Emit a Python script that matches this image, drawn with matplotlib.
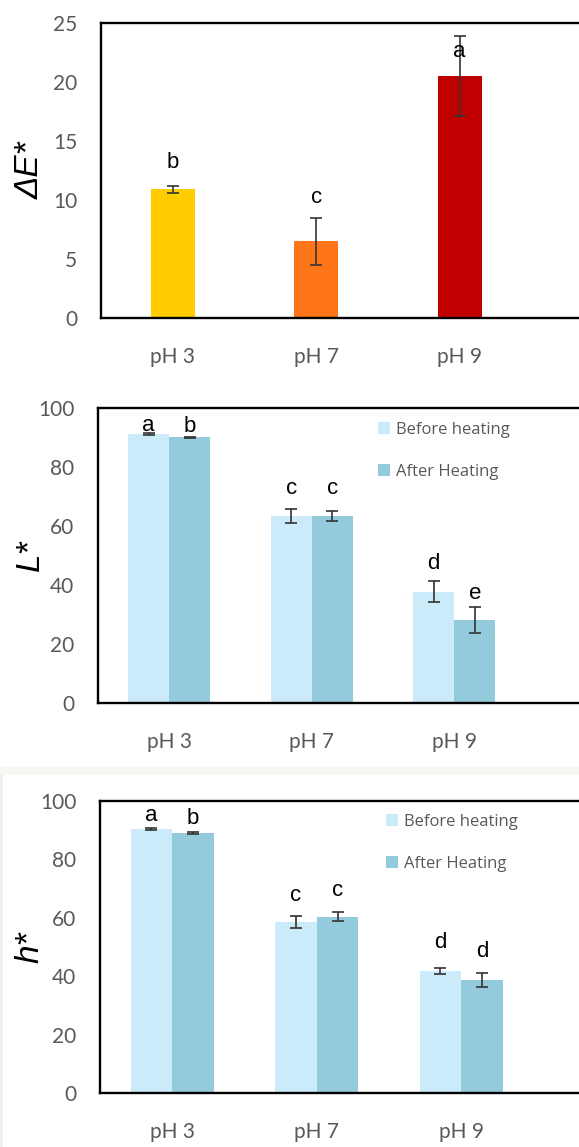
import matplotlib
matplotlib.use("Agg")
import matplotlib.pyplot as plt
from matplotlib.patches import Patch, Rectangle

W, H = 579, 1147

ph_labels = ["pH 3", "pH 7", "pH 9"]

# total colour difference
de_values = [10.9, 6.5, 20.5]
de_errors = [0.3, 2.0, 3.4]
de_letters = ["b", "c", "a"]
de_letter_y = [13.2, 10.2, 22.6]
de_colors = ["#FFCC00", "#FF7519", "#C00000"]

# lightness
l_before = [91.2, 63.4, 37.7]
l_before_err = [0.3, 2.3, 3.6]
l_after = [90.0, 63.4, 28.1]
l_after_err = [0.3, 1.7, 4.3]
l_letters_before = ["a", "c", "d"]
l_letters_after = ["b", "c", "e"]
l_letter_y_before = [94.2, 72.8, 47.4]
l_letter_y_after = [93.7, 72.8, 37.2]

# hue angle
h_before = [90.3, 58.5, 41.8]
h_before_err = [0.3, 2.0, 1.1]
h_after = [89.0, 60.4, 38.7]
h_after_err = [0.3, 1.6, 2.4]
h_letters_before = ["a", "c", "d"]
h_letters_after = ["b", "c", "d"]
h_letter_y_before = [95.1, 67.8, 51.5]
h_letter_y_after = [94.1, 69.5, 48.4]

series_names = ["Before heating", "After Heating"]
before_color = "#CCEBFA"
after_color = "#93CBDC"

tick_grey = "#595959"
err_kw = dict(ecolor="#333333", elinewidth=1.2, capsize=4, capthick=1.2)

fig = plt.figure(figsize=(W / 100, H / 100), dpi=100)

# faint strip between the lower panels
fig.patches.append(Rectangle((0, 1 - 775 / H), 1, 8 / H, transform=fig.transFigure,
                             facecolor="#F9F7F1", edgecolor="none", zorder=0))
fig.patches.append(Rectangle((0, 0), 3 / W, 1 - 775 / H, transform=fig.transFigure,
                             facecolor="#F5EFE8", edgecolor="none", zorder=0))


def make_axes(left, top, bottom, slot, ymax, ystep, ylabel):
    right = 586
    ax = fig.add_axes([left / W, 1 - bottom / H, (right - left) / W, (bottom - top) / H])
    ax.set_xlim(-0.5, -0.5 + (right - left) / slot)
    ax.set_ylim(0, ymax)
    ax.set_yticks(range(0, ymax + 1, ystep))
    ax.set_xticks(range(3))
    ax.set_xticklabels(ph_labels)
    for s in ax.spines.values():
        s.set_color("black")
        s.set_linewidth(1.7)
    ax.tick_params(length=0, labelcolor=tick_grey, labelsize=15)
    ax.tick_params(axis="y", pad=17)
    ax.tick_params(axis="x", pad=21)
    for t in ax.get_xticklabels() + ax.get_yticklabels():
        t.set_fontfamily("Lato")
    fig.text(30 / W, 1 - (top + bottom) / 2 / H, ylabel, rotation=90, ha="center",
             va="center", fontsize=24, fontstyle="italic", family="Liberation Sans")
    return ax


def letters(ax, xs, labels, ys):
    for x, lab, y in zip(xs, labels, ys):
        ax.text(x, y, lab, ha="center", va="center", fontsize=16,
                family="Liberation Sans", color="black")


def paired(ax, before, before_err, after, after_err, lb, lyb, la, lya, legend_xy):
    w = 0.288
    xb = [i - w / 2 for i in range(3)]
    xa = [i + w / 2 for i in range(3)]
    ax.bar(xb, before, w, color=before_color, yerr=before_err, error_kw=err_kw)
    ax.bar(xa, after, w, color=after_color, yerr=after_err, error_kw=err_kw)
    letters(ax, xb, lb, lyb)
    letters(ax, xa, la, lya)
    handles = [Patch(facecolor=before_color), Patch(facecolor=after_color)]
    ax.legend(handles, series_names, loc="upper left",
              bbox_to_anchor=(legend_xy[0] / W, 1 - legend_xy[1] / H),
              bbox_transform=fig.transFigure, frameon=False, borderpad=0,
              borderaxespad=0, handlelength=0.7, handleheight=0.7,
              handletextpad=0.35, labelspacing=1.55,
              prop=dict(family="Open Sans", size=12), labelcolor=tick_grey)


# top panel: colour difference
ax1 = make_axes(101, 23, 318, 143.5, 25, 5, "ΔE*")
ax1.bar(range(3), de_values, 0.31, color=de_colors, yerr=de_errors, error_kw=err_kw)
letters(ax1, range(3), de_letters, de_letter_y)

# middle panel: L*
ax2 = make_axes(98, 408, 703, 142.5, 100, 20, "L*")
paired(ax2, l_before, l_before_err, l_after, l_after_err,
       l_letters_before, l_letter_y_before, l_letters_after, l_letter_y_after,
       (378, 422))

# bottom panel: h*
ax3 = make_axes(100, 801, 1093, 144.5, 100, 20, "h*")
paired(ax3, h_before, h_before_err, h_after, h_after_err,
       h_letters_before, h_letter_y_before, h_letters_after, h_letter_y_after,
       (386, 814))

fig.savefig("out.png", dpi=100)
